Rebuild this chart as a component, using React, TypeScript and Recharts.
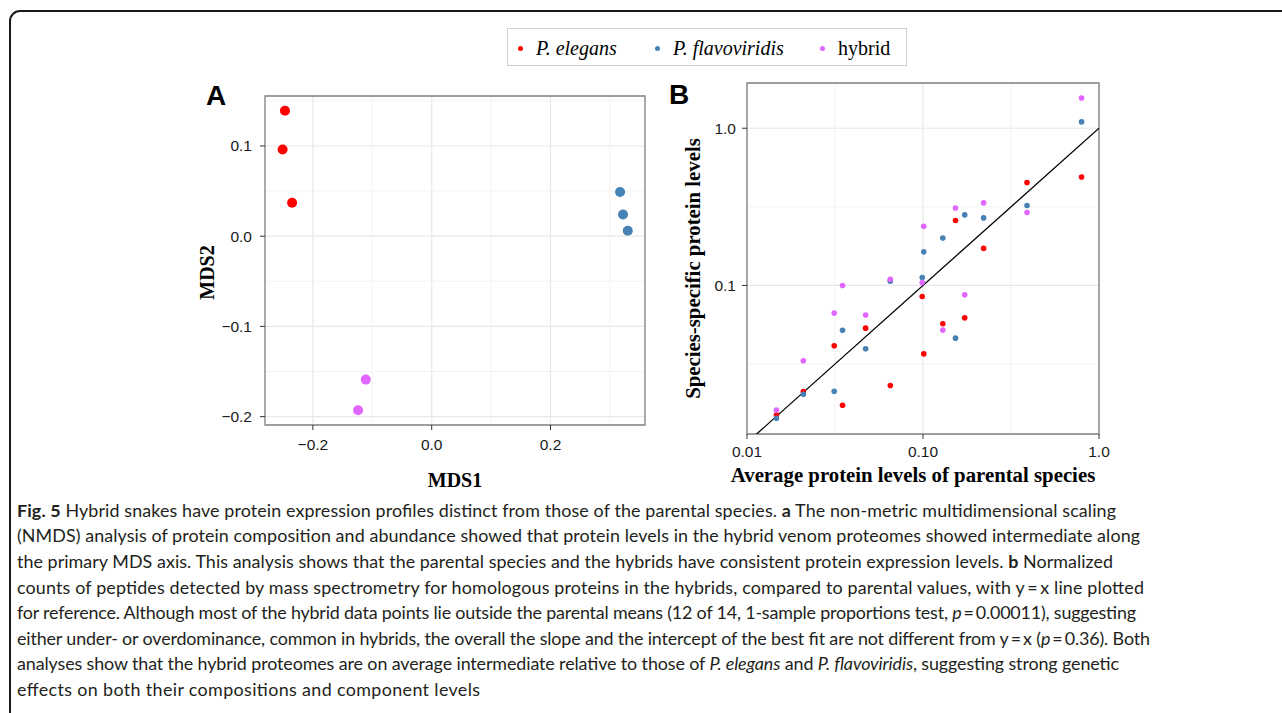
import React from "react";
import {
  ScatterChart,
  Scatter,
  XAxis,
  YAxis,
  CartesianGrid,
  ReferenceArea,
  ReferenceLine,
} from "recharts";

// ---------- Panel A: NMDS ----------
const elegansMDS1 = [-0.247, -0.251, -0.235];
const elegansMDS2 = [0.139, 0.096, 0.037];
const flavoMDS1 = [0.317, 0.322, 0.33];
const flavoMDS2 = [0.049, 0.024, 0.006];
const hybridMDS1 = [-0.111, -0.124];
const hybridMDS2 = [-0.159, -0.193];

const mdsXTicks = [-0.2, 0, 0.2];
const mdsYTicks = [-0.2, -0.1, 0, 0.1];
const mdsXMinor = [-0.1, 0.1, 0.3];
const mdsYMinor = [-0.15, -0.05, 0.05, 0.15];
const mdsXDomain = [-0.2806, 0.359];
const mdsYDomain = [-0.2093, 0.1554];

// ---------- Panel B: protein levels ----------
const parentalMean = [0.0147, 0.0209, 0.0313, 0.0349, 0.0472, 0.0652, 0.099, 0.101, 0.1296, 0.153, 0.1726, 0.221, 0.39, 0.796];
const elegansLevel = [0.015, 0.0211, 0.0413, 0.0173, 0.0535, 0.0231, 0.085, 0.0367, 0.057, 0.259, 0.0622, 0.172, 0.452, 0.49];
const flavoLevel = [0.0143, 0.0203, 0.0212, 0.0518, 0.0395, 0.1065, 0.1124, 0.1636, 0.2, 0.0462, 0.281, 0.269, 0.3225, 1.097];
const hybridLevel = [0.0161, 0.0332, 0.0667, 0.1, 0.0648, 0.1096, 0.1045, 0.238, 0.052, 0.311, 0.0871, 0.335, 0.291, 1.558];

const levelXTicks = [0.01, 0.1, 1];
const levelXTickLabels = ["0.01", "0.10", "1.0"];
const levelYTicks = [0.1, 1];
const levelYTickLabels = ["0.1", "1.0"];
const levelXMinor = [0.0316, 0.316];
const levelYMinor = [0.0316, 0.316];
const levelXDomain = [0.01, 1];
const levelYDomain = [0.01135, 1.94];
const identityLine = [0.01, 1];

const legendLabels = ["P. elegans", "P. flavoviridis", "hybrid"];

// caption: segments [text, style] where style: "" normal, "b" bold, "i" italic
const EQ = "\u2009=\u2009";
const captionLines: [string, string][][] = [
  [["Fig. 5", "b"], [" Hybrid snakes have protein expression profiles distinct from those of the parental species. ", ""], ["a", "b"], [" The non-metric multidimensional scaling", ""]],
  [["(NMDS) analysis of protein composition and abundance showed that protein levels in the hybrid venom proteomes showed intermediate along", ""]],
  [["the primary MDS axis. This analysis shows that the parental species and the hybrids have consistent protein expression levels. ", ""], ["b", "b"], [" Normalized", ""]],
  [["counts of peptides detected by mass spectrometry for homologous proteins in the hybrids, compared to parental values, with y" + EQ + "x line plotted", ""]],
  [["for reference. Although most of the hybrid data points lie outside the parental means (12 of 14, 1-sample proportions test, ", ""], ["p", "i"], [EQ + "0.00011), suggesting", ""]],
  [["either under- or overdominance, common in hybrids, the overall the slope and the intercept of the best fit are not different from y" + EQ + "x (", ""], ["p", "i"], [EQ + "0.36). Both", ""]],
  [["analyses show that the hybrid proteomes are on average intermediate relative to those of ", ""], ["P. elegans", "i"], [" and ", ""], ["P. flavoviridis", "i"], [", suggesting strong genetic", ""]],
  [["effects on both their compositions and component levels", ""]],
];
const captionLineWidths = [1099, 1123, 1096, 1127, 1119, 1133, 1102, 463];

const RED = "#ff0000";
const BLUE = "#4682b4";
const PINK = "#e066ff";

const zip = (xs: number[], ys: number[]) => xs.map((x, i) => ({ x, y: ys[i] }));

const dot = (r: number, fill: string) => (p: any) =>
  <circle cx={p.cx} cy={p.cy} r={r} fill={fill} />;

const tickStyle = { fontSize: 15.5, fill: "#1a1a1a", fontFamily: "'Liberation Sans', Arial, sans-serif" };
const titleFont = "'Liberation Serif', 'Times New Roman', serif";

const fmtA = (v: number) => (v < 0 ? "\u2212" : "") + Math.abs(v).toFixed(1);

export default function App() {
  const mdsE = zip(elegansMDS1, elegansMDS2);
  const mdsF = zip(flavoMDS1, flavoMDS2);
  const mdsH = zip(hybridMDS1, hybridMDS2);
  const lvE = zip(parentalMean, elegansLevel);
  const lvF = zip(parentalMean, flavoLevel);
  const lvH = zip(parentalMean, hybridLevel);

  const legendItems = [
    { label: legendLabels[0], color: RED, italic: true, left: 10 },
    { label: legendLabels[1], color: BLUE, italic: true, left: 147 },
    { label: legendLabels[2], color: PINK, italic: false, left: 312 },
  ];

  return (
    <div style={{ position: "absolute", left: 0, top: 0, width: 1282, height: 713, overflow: "hidden", background: "#fff" }}>
      {/* outer frame */}
      <div style={{ position: "absolute", left: 9, top: 10, width: 1400, height: 800, border: "2px solid #1a1a1a", borderRadius: 11 }} />

      {/* legend */}
      <div style={{ position: "absolute", left: 507, top: 28, width: 400, height: 38, border: "1.5px solid #cfcfcf", boxSizing: "border-box" }}>
        {legendItems.map((it) => (
          <div key={it.label} style={{ position: "absolute", left: it.left, top: 0, height: 38, display: "flex", alignItems: "center" }}>
            <span style={{ width: 5, height: 5, borderRadius: "50%", background: it.color, display: "inline-block", marginRight: 13 }} />
            <span style={{ fontFamily: titleFont, fontSize: 20, fontStyle: it.italic ? "italic" : "normal", color: "#000", whiteSpace: "nowrap" }}>{it.label}</span>
          </div>
        ))}
      </div>

      {/* panel labels */}
      <div style={{ position: "absolute", left: 206, top: 80, fontFamily: "'Liberation Sans', Arial, sans-serif", fontWeight: 700, fontSize: 28, lineHeight: "32px" }}>A</div>
      <div style={{ position: "absolute", left: 669, top: 79, fontFamily: "'Liberation Sans', Arial, sans-serif", fontWeight: 700, fontSize: 28, lineHeight: "32px" }}>B</div>

      {/* Panel A */}
      <div style={{ position: "absolute", left: 150, top: 80 }}>
        <ScatterChart width={520} height={420} margin={{ top: 16, right: 25, bottom: 15, left: 55 }}>
          <CartesianGrid stroke="#f3f3f3" strokeWidth={1} verticalValues={mdsXMinor} horizontalValues={mdsYMinor} />
          <CartesianGrid stroke="#e8e8e8" strokeWidth={1.2} verticalValues={mdsXTicks} horizontalValues={mdsYTicks} />
          <XAxis
            type="number"
            dataKey="x"
            domain={mdsXDomain}
            allowDataOverflow
            ticks={mdsXTicks}
            tickFormatter={fmtA}
            height={60}
            tickSize={5}
            tickMargin={9}
            tick={tickStyle}
            axisLine={false}
            tickLine={{ stroke: "#333" }}
            label={{
              content: (p: any) => (
                <text x={p.viewBox.x + p.viewBox.width / 2} y={p.viewBox.y + 62} textAnchor="middle" fontFamily={titleFont} fontWeight={700} fontSize={20} fill="#000">MDS1</text>
              ),
            }}
          />
          <YAxis
            type="number"
            dataKey="y"
            domain={mdsYDomain}
            allowDataOverflow
            ticks={mdsYTicks}
            tickFormatter={fmtA}
            width={60}
            tickSize={5}
            tickMargin={8}
            tick={tickStyle}
            axisLine={false}
            tickLine={{ stroke: "#333" }}
            label={{
              content: (p: any) => {
                const cx = p.viewBox.x + 8.5;
                const cy = p.viewBox.y + p.viewBox.height / 2 + 12;
                return (
                  <text x={cx} y={cy} transform={`rotate(-90 ${cx} ${cy})`} textAnchor="middle" fontFamily={titleFont} fontWeight={700} fontSize={20} fill="#000">MDS2</text>
                );
              },
            }}
          />
          <ReferenceArea x1={mdsXDomain[0]} x2={mdsXDomain[1]} y1={mdsYDomain[0]} y2={mdsYDomain[1]} fill="none" stroke="#7f7f7f" strokeWidth={1.3} ifOverflow="visible" />
          <Scatter data={mdsE} isAnimationActive={false} shape={dot(5, RED)} />
          <Scatter data={mdsF} isAnimationActive={false} shape={dot(5, BLUE)} />
          <Scatter data={mdsH} isAnimationActive={false} shape={dot(5, PINK)} />
        </ScatterChart>
      </div>

      {/* Panel B */}
      <div style={{ position: "absolute", left: 640, top: 60 }}>
        <ScatterChart width={480} height={440} margin={{ top: 23, right: 21, bottom: 6, left: 47 }}>
          <CartesianGrid stroke="#f3f3f3" strokeWidth={1} verticalValues={levelXMinor} horizontalValues={levelYMinor} />
          <CartesianGrid stroke="#e8e8e8" strokeWidth={1.2} verticalValues={levelXTicks} horizontalValues={levelYTicks} />
          <XAxis
            type="number"
            dataKey="x"
            scale="log"
            domain={levelXDomain}
            allowDataOverflow
            ticks={levelXTicks}
            tickFormatter={(v: number) => levelXTickLabels[levelXTicks.indexOf(v)] ?? String(v)}
            height={60}
            tickSize={5}
            tickMargin={7}
            tick={tickStyle}
            axisLine={false}
            tickLine={{ stroke: "#333" }}
            label={{
              content: (p: any) => (
                <text x={p.viewBox.x + p.viewBox.width / 2 - 10} y={p.viewBox.y + 48} textAnchor="middle" fontFamily={titleFont} fontWeight={700} fontSize={20.8} fill="#000">Average protein levels of parental species</text>
              ),
            }}
          />
          <YAxis
            type="number"
            dataKey="y"
            scale="log"
            domain={levelYDomain}
            allowDataOverflow
            ticks={levelYTicks}
            tickFormatter={(v: number) => levelYTickLabels[levelYTicks.indexOf(v)] ?? String(v)}
            width={60}
            tickSize={5}
            tickMargin={6}
            tick={tickStyle}
            axisLine={false}
            tickLine={{ stroke: "#333" }}
            label={{
              content: (p: any) => {
                const cx = p.viewBox.x + 13;
                const cy = p.viewBox.y + p.viewBox.height / 2 + 10;
                return (
                  <text x={cx} y={cy} transform={`rotate(-90 ${cx} ${cy})`} textAnchor="middle" fontFamily={titleFont} fontWeight={700} fontSize={20.8} fill="#000">Species-specific protein levels</text>
                );
              },
            }}
          />
          <ReferenceArea x1={levelXDomain[0]} x2={levelXDomain[1]} y1={levelYDomain[0]} y2={levelYDomain[1]} fill="none" stroke="#7f7f7f" strokeWidth={1.3} ifOverflow="visible" />
          <Scatter data={lvE} isAnimationActive={false} shape={dot(2.8, RED)} />
          <Scatter data={lvF} isAnimationActive={false} shape={dot(2.8, BLUE)} />
          <Scatter data={lvH} isAnimationActive={false} shape={dot(2.8, PINK)} />
          <ReferenceLine
            segment={[{ x: identityLine[0], y: identityLine[0] }, { x: identityLine[1], y: identityLine[1] }]}
            stroke="#000"
            strokeWidth={1.3}
            ifOverflow="hidden"
          />
        </ScatterChart>
      </div>

      {/* caption */}
      <svg style={{ position: "absolute", left: 0, top: 490 }} width={1282} height={223}>
        {captionLines.map((segs, i) => (
          <text
            key={i}
            x={17}
            y={26.7 + i * 25.6}
            textLength={captionLineWidths[i]}
            lengthAdjust="spacing"
            fontFamily="Lato, 'Open Sans', sans-serif"
            fontSize={17.9}
            fill="#231f20"
            style={{ whiteSpace: "pre" }}
          >
            {segs.map(([t, s], j) => (
              <tspan key={j} fontWeight={s === "b" ? 700 : 400} fontStyle={s === "i" ? "italic" : "normal"}>{t}</tspan>
            ))}
          </text>
        ))}
      </svg>
    </div>
  );
}
